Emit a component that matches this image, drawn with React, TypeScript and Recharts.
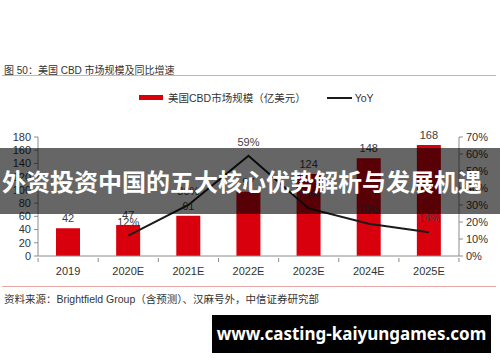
import React from 'react';
import { ComposedChart, Bar, Line, XAxis, YAxis, LabelList, Legend } from 'recharts';

const years = ['2019', '2020E', '2021E', '2022E', '2023E', '2024E', '2025E'];
const marketSize = [42, 47, 61, 97, 124, 148, 168];
const yoy = [null, 12, 30, 59, 28, 19, 14];
const leftTicks = [0, 20, 40, 60, 80, 100, 120, 140, 160, 180];
const rightTicks = [0, 10, 20, 30, 40, 50, 60, 70];

const FONT = "'Liberation Sans', Arial, 'Noto Sans CJK SC', sans-serif";
const RED = '#d9000e';

const data = years.map((year, i) => ({ year, size: marketSize[i], yoy: yoy[i] }));

const XTick = (props: any) => {
  const { x, y, payload, index } = props;
  const half = 30;
  return (
    <g>
      <line x1={x - half} y1={y - 6} x2={x - half} y2={y - 2} stroke="#8c8c8c" />
      {index === years.length - 1 && (
        <line x1={x + half} y1={y - 6} x2={x + half} y2={y - 2} stroke="#8c8c8c" />
      )}
      <text x={x} y={y + 11} textAnchor="middle" fill="#333" fontSize={11} fontFamily={FONT}>
        {payload.value}
      </text>
    </g>
  );
};

const renderLegend = () => (
  <div style={{ display: 'flex', alignItems: 'center', fontSize: 10.5, color: '#333', fontFamily: FONT }}>
    <span style={{ display: 'inline-block', width: 24, height: 5, background: RED, marginLeft: 139, marginRight: 5 }} />
    <span>美国CBD市场规模（亿美元）</span>
    <span style={{ display: 'inline-block', width: 25, height: 2, background: '#1a1a1a', marginLeft: 21, marginRight: 3 }} />
    <span>YoY</span>
  </div>
);

export default function App() {
  return (
    <div style={{ position: 'absolute', left: 0, top: 0, width: 500, height: 362, background: '#fff', overflow: 'hidden', fontFamily: FONT }}>
      <div style={{ position: 'absolute', left: 4, top: 62, fontSize: 10, color: '#333', whiteSpace: 'nowrap' }}>
        图 50：美国 CBD 市场规模及同比增速
      </div>
      <div style={{ position: 'absolute', left: 2, top: 75, width: 494, height: 1, background: '#e8a6a6' }} />

      <div style={{ position: 'absolute', left: 0, top: 0 }}>
        <ComposedChart width={500} height={362} data={data} margin={{ top: 122, right: 0, bottom: 76, left: 0 }}>
          <Legend content={renderLegend} verticalAlign="top" wrapperStyle={{ top: 90, left: 0, width: 500 }} />
          <XAxis
            dataKey="year"
            axisLine={{ stroke: '#8c8c8c' }}
            tickLine={false}
            tick={<XTick />}
            height={30}
            interval={0}
          />
          <YAxis
            yAxisId="left"
            domain={[0, 180]}
            ticks={leftTicks}
            width={38}
            axisLine={{ stroke: '#8c8c8c' }}
            tickLine={{ stroke: '#8c8c8c' }}
            tickSize={4}
            tickMargin={3}
            tick={{ fill: '#333', fontSize: 11, fontFamily: FONT }}
            interval={0}
          />
          <YAxis
            yAxisId="right"
            orientation="right"
            domain={[0, 70]}
            ticks={rightTicks}
            width={41}
            axisLine={{ stroke: '#8c8c8c' }}
            tickLine={{ stroke: '#8c8c8c' }}
            tickSize={4}
            tickMargin={3}
            tickFormatter={(v: number) => `${v}%`}
            tick={{ fill: '#333', fontSize: 11, fontFamily: FONT }}
            interval={0}
          />
          <Bar yAxisId="left" dataKey="size" fill={RED} barSize={24} isAnimationActive={false}>
            <LabelList dataKey="size" position="top" offset={6} fill="#404040" fontSize={11} fontFamily={FONT} />
          </Bar>
          <Line
            yAxisId="right"
            type="linear"
            dataKey="yoy"
            stroke="#1a1a1a"
            strokeWidth={2}
            dot={false}
            isAnimationActive={false}
          >
            <LabelList
              dataKey="yoy"
              position="top"
              offset={10}
              fill="#404040"
              fontSize={11}
              fontFamily={FONT}
              formatter={(v: any) => (v == null ? '' : `${v}%`)}
            />
          </Line>
        </ComposedChart>
      </div>

      <div style={{ position: 'absolute', left: 2, top: 286, width: 494, height: 1, background: '#e8a6a6' }} />
      <div style={{ position: 'absolute', left: 4, top: 291, fontSize: 10.5, color: '#333', whiteSpace: 'nowrap' }}>
        资料来源：Brightfield Group（含预测）、汉麻号外，中信证券研究部
      </div>

      <div
        style={{
          position: 'absolute', left: 0, top: 148, width: 500, height: 66,
          background: 'rgba(0,0,0,0.6)', color: '#fff', fontWeight: 700, fontSize: 24,
          lineHeight: '66px', fontFamily: "'Noto Sans CJK SC', sans-serif", whiteSpace: 'nowrap', paddingLeft: 2,
        }}
      >
        外资投资中国的五大核心优势解析与发展机遇
      </div>

      <div
        style={{
          position: 'absolute', left: 212, top: 315, width: 279, height: 38, background: '#000',
          color: '#fff', fontWeight: 700, fontSize: 17, lineHeight: '38px', textAlign: 'center',
          fontFamily: "'Noto Sans', 'Open Sans', sans-serif", whiteSpace: 'nowrap',
        }}
      >
        www.casting-kaiyungames.com
      </div>
    </div>
  );
}
